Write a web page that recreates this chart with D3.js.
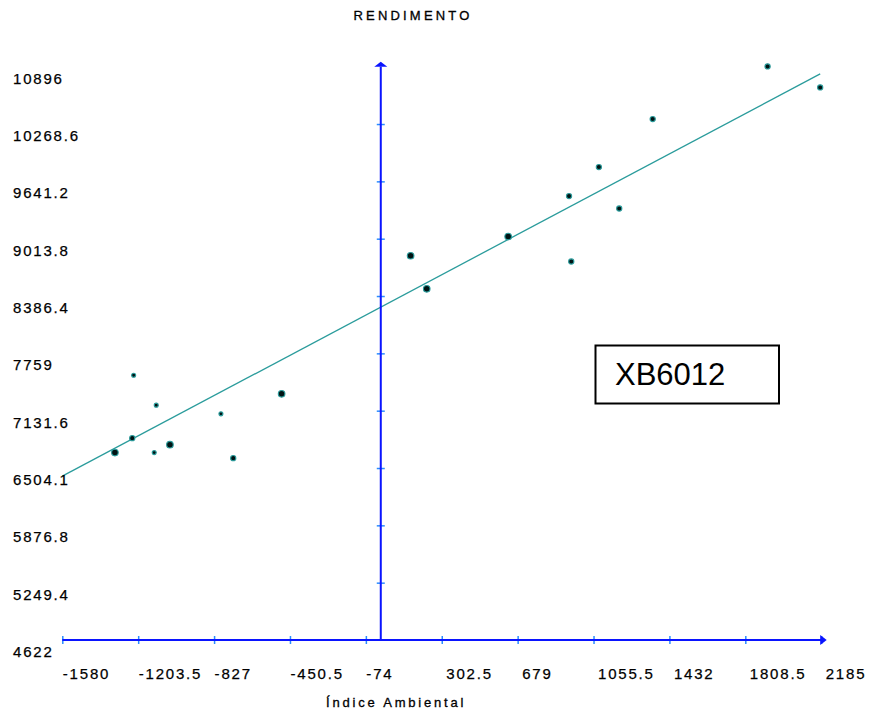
<!DOCTYPE html>
<html>
<head>
<meta charset="utf-8">
<script src="https://cdn.jsdelivr.net/npm/d3@7"></script>
<style>
  html, body { margin: 0; padding: 0; background: #fff; }
  svg { display: block; }
  text { font-family: "Liberation Sans", Arial, sans-serif; fill: #000; }
</style>
</head>
<body>
<svg id="chart" width="869" height="713"></svg>
<script>
// ---- data ----
const title = "RENDIMENTO";
const xAxisTitle = "Índice Ambiental";
const legendLabel = "XB6012";

const xTickValues = [-1580, -1203.5, -827, -450.5, -74, 302.5, 679, 1055.5, 1432, 1808.5, 2185];
const xTickLabels = ["-1580", "-1203.5", "-827", "-450.5", "-74", "302.5", "679", "1055.5", "1432", "1808.5", "2185"];
const yTickValues = [4622, 5249.4, 5876.8, 6504.1, 7131.6, 7759, 8386.4, 9013.8, 9641.2, 10268.6, 10896];
const yTickLabels = ["4622", "5249.4", "5876.8", "6504.1", "7131.6", "7759", "8386.4", "9013.8", "9641.2", "10268.6", "10896"];

const envIndex = [-1319, -1233, -1226, -1114, -1124, -1046, -793, -732, -492,
                  148, 228, 632, 934, 945, 1082, 1183, 1349, 1919, 2180];
const yieldValues = [6673, 6831, 7520, 7192, 6673, 6760, 7097, 6612, 7316,
                     8827, 8465, 9038, 9480, 8764, 9798, 9344, 10323, 10899, 10669];
const markerKind = ["big", "med", "small", "small", "small", "big", "small", "med", "big",
                    "big", "big", "big", "med", "med", "med", "med", "med", "med", "med"];

const fitIntercept = 8265;
const fitSlope = 1.171;
const fitXStart = -1580;
const fitXEnd = 2180;

// ---- drawing ----
const svg = d3.select("#chart");
const x = d3.scaleLinear().domain([-1580, 2185]).range([62.3, 821.2]);
const y = d3.scaleLinear().domain([4622, 10896]).range([640, 66.7]);

const axisBlue = "#0a14ff";
const tickBlue = "#2a8cff";
const teal = "#2b9c9c";

// title
svg.append("text")
  .attr("x", 413).attr("y", 20)
  .attr("text-anchor", "middle")
  .style("font-size", "13px")
  .style("letter-spacing", "3.2px")
  .style("stroke", "#000").style("stroke-width", 0.3)
  .text(title);

// regression line
svg.append("line")
  .attr("x1", x(fitXStart)).attr("y1", y(fitIntercept + fitSlope * fitXStart))
  .attr("x2", x(fitXEnd)).attr("y2", y(fitIntercept + fitSlope * fitXEnd))
  .attr("stroke", teal).attr("stroke-width", 1.3);

// x axis (bottom)
const xAxisG = svg.append("g").attr("transform", `translate(0,${y(4622)})`)
  .call(d3.axisBottom(x).tickValues(xTickValues)
        .tickFormat((d, i) => xTickLabels[i]).tickSizeOuter(0));
xAxisG.select(".domain").remove();
xAxisG.selectAll(".tick line")
  .attr("y1", -4).attr("y2", 4)
  .attr("stroke", tickBlue).attr("stroke-width", 1.5);
xAxisG.selectAll(".tick text")
  .attr("y", 38.5).attr("dy", null)
  .attr("text-anchor", "start")
  .attr("x", d => d < 0 ? 0 : 4)
  .style("font-size", "15px")
  .style("letter-spacing", "1.8px")
  .style("stroke", "#000").style("stroke-width", 0.25)
  .attr("fill", "#000");

// y axis (at x = 0)
const yAxisG = svg.append("g").attr("transform", `translate(${x(0)},0)`)
  .call(d3.axisLeft(y).tickValues(yTickValues)
        .tickFormat((d, i) => yTickLabels[i]).tickSizeOuter(0));
yAxisG.select(".domain").remove();
yAxisG.selectAll(".tick line")
  .attr("x1", -4).attr("x2", 4)
  .attr("stroke", tickBlue).attr("stroke-width", 1.5)
  .style("display", (d, i) => (i === 0 || i === yTickValues.length - 1) ? "none" : null);
yAxisG.selectAll(".tick text")
  .attr("x", 13 - x(0)).attr("dy", null).attr("y", 16.5)
  .attr("text-anchor", "start")
  .style("font-size", "15px")
  .style("letter-spacing", "1.8px")
  .style("stroke", "#000").style("stroke-width", 0.25)
  .attr("fill", "#000");

// axis lines with arrows
svg.append("line")
  .attr("x1", x(-1580)).attr("x2", x(2185) + 1)
  .attr("y1", y(4622)).attr("y2", y(4622))
  .attr("stroke", axisBlue).attr("stroke-width", 2);
svg.append("line")
  .attr("x1", x(0)).attr("x2", x(0))
  .attr("y1", y(4622)).attr("y2", y(10896))
  .attr("stroke", axisBlue).attr("stroke-width", 2);
// right arrow
{
  const ax = x(2185), ay = y(4622);
  svg.append("path")
    .attr("d", `M${ax - 1},${ay - 5} L${ax + 5.5},${ay} L${ax - 1},${ay + 5} Z`)
    .attr("fill", axisBlue);
}
// top arrow
{
  const ax = x(0), ay = y(10896);
  svg.append("path")
    .attr("d", `M${ax - 6.5},${ay} L${ax},${ay - 5} L${ax + 6.5},${ay} Z`)
    .attr("fill", axisBlue);
}

// points
const radius = { small: 2.0, med: 2.6, big: 3.3 };
const pts = envIndex.map((v, i) => ({ x: v, y: yieldValues[i], k: markerKind[i] }));
svg.append("g").selectAll("circle").data(pts).join("circle")
  .attr("cx", d => x(d.x)).attr("cy", d => y(d.y))
  .attr("r", d => radius[d.k])
  .attr("fill", "#001414")
  .attr("stroke", teal).attr("stroke-width", 1.1);

// x axis title
svg.append("text")
  .attr("x", 326).attr("y", 707)
  .style("font-size", "13px")
  .style("letter-spacing", "2.8px")
  .style("stroke", "#000").style("stroke-width", 0.3)
  .text(xAxisTitle);

// legend box
svg.append("rect")
  .attr("x", 595.5).attr("y", 345.5)
  .attr("width", 183.5).attr("height", 58)
  .attr("fill", "#fff").attr("stroke", "#000").attr("stroke-width", 2);
svg.append("text")
  .attr("x", 615).attr("y", 385)
  .style("font-size", "31px")
  .text(legendLabel);
</script>
</body>
</html>
